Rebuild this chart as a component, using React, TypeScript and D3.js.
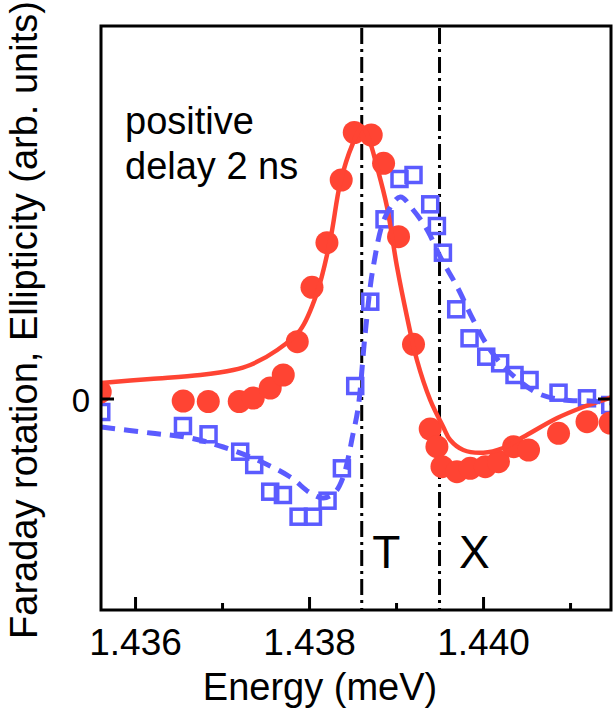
import React from "react";
import * as d3 from "d3";

// Measured data (energy in meV-axis units, signal in arb. units)
const redEnergy = [1.435594, 1.436548, 1.436836, 1.437192, 1.437353, 1.437548, 1.437698, 1.437859, 1.438028, 1.4382, 1.438364, 1.438514, 1.438709, 1.438851, 1.439023, 1.439195, 1.439387, 1.439464, 1.439522, 1.439694, 1.439847, 1.44002, 1.440172, 1.440345, 1.440517, 1.440862, 1.441189, 1.441456];
const redValue = [0.07, -0.02, -0.025, -0.025, 0.01, 0.11, 0.24, 0.573, 1.117, 1.563, 2.19, 2.665, 2.64, 2.357, 1.623, 0.547, -0.3, -0.477, -0.677, -0.727, -0.693, -0.677, -0.627, -0.477, -0.51, -0.343, -0.227, -0.24];

const blueEnergy = [1.435606, 1.436545, 1.436839, 1.437203, 1.437364, 1.437548, 1.437694, 1.437874, 1.438039, 1.438207, 1.438372, 1.438525, 1.438698, 1.438862, 1.439034, 1.439195, 1.439387, 1.439464, 1.439533, 1.439686, 1.439839, 1.440031, 1.440191, 1.440356, 1.440529, 1.440862, 1.441189, 1.441456];
const blueValue = [-0.13, -0.27, -0.353, -0.527, -0.66, -0.927, -0.96, -1.177, -1.177, -1.017, -0.693, 0.13, 0.973, 1.797, 2.2, 2.24, 1.947, 1.73, 1.463, 0.897, 0.607, 0.423, 0.357, 0.24, 0.19, 0.063, 0.007, -0.06];

const redFitEnergy = [1.435606, 1.436169, 1.436744, 1.437123, 1.437318, 1.437629, 1.437893, 1.438085, 1.438238, 1.438353, 1.438491, 1.438606, 1.438686, 1.438775, 1.43889, 1.439005, 1.43912, 1.439234, 1.439387, 1.439537, 1.439617, 1.439767, 1.439997, 1.440226, 1.440456, 1.440847, 1.441146, 1.441376, 1.441479];
const redFitValue = [0.16, 0.2, 0.24, 0.29, 0.34, 0.49, 0.69, 1.06, 1.59, 2.16, 2.54, 2.72, 2.59, 2.323, 1.923, 1.323, 0.823, 0.39, -0.01, -0.28, -0.41, -0.51, -0.537, -0.49, -0.38, -0.19, -0.08, -0.01, 0.02];

const blueFitEnergy = [1.435606, 1.436169, 1.436629, 1.437008, 1.437399, 1.437778, 1.438008, 1.438157, 1.438295, 1.438387, 1.438502, 1.43856, 1.43864, 1.438732, 1.43887, 1.439043, 1.439192, 1.439353, 1.439503, 1.439698, 1.439882, 1.440077, 1.440307, 1.440617, 1.440916, 1.441226, 1.441479];
const blueFitValue = [-0.28, -0.34, -0.39, -0.48, -0.61, -0.78, -0.94, -0.99, -0.93, -0.78, -0.34, -0.08, 0.66, 1.32, 1.82, 2.02, 1.89, 1.69, 1.42, 1.12, 0.79, 0.49, 0.26, 0.06, -0.01, -0.02, -0.04];

const majorTicks = [1.436, 1.438, 1.44];
const minorTicks = [1.437, 1.439, 1.441];
const markerLines = [1.4386, 1.439494];
const markerLabels = ["T", "X"];
const markerLabelEnergy = [1.438882, 1.439894];

const W = 613;
const H = 717;
const left = 101;
const right = 611;
const top = 26;
const bottom = 610;
const FONT = "'Liberation Sans', Arial, Helvetica, sans-serif";
const RED = "#FF4433";
const BLUE = "#5B5BFF";

export default function App() {
  const x = d3.scaleLinear().domain([1.435603, 1.441465]).range([left, right]);
  const y = d3.scaleLinear().domain([-2.11, 3.73]).range([bottom, top]);

  const redLine = d3
    .line<number>()
    .x((_, i) => x(redFitEnergy[i]))
    .y((d) => y(d))
    .curve(d3.curveCatmullRom.alpha(0.5));
  const blueLine = d3
    .line<number>()
    .x((_, i) => x(blueFitEnergy[i]))
    .y((d) => y(d))
    .curve(d3.curveCatmullRom.alpha(0.5));

  const sq = 15;

  return (
    <svg width={W} height={H} style={{ display: "block", position: "absolute", left: 0, top: 0 }} fontFamily={FONT}>
      <defs>
        <clipPath id="plot">
          <rect x={left} y={top} width={right - left} height={bottom - top} />
        </clipPath>
      </defs>
      <rect width={W} height={H} fill="white" />

      {markerLines.map((e, i) => (
        <line key={"v" + i} x1={x(e)} x2={x(e)} y1={top + 2} y2={bottom} stroke="black" strokeWidth={3} strokeDasharray="16,5,3,5" />
      ))}

      <g clipPath="url(#plot)">
        {blueValue.map((v, i) => (
          <rect key={"b" + i} x={x(blueEnergy[i]) - sq / 2} y={y(v) - sq / 2} width={sq} height={sq} fill="none" stroke={BLUE} strokeWidth={3.5} />
        ))}
        {redValue.map((v, i) => (
          <circle key={"r" + i} cx={x(redEnergy[i])} cy={y(v)} r={11.5} fill={RED} />
        ))}
        <path d={redLine(redFitValue) || ""} fill="none" stroke={RED} strokeWidth={4.5} />
        <path d={blueLine(blueFitValue) || ""} fill="none" stroke={BLUE} strokeWidth={5} strokeDasharray="14,9" />
      </g>

      <rect x={left} y={top} width={right - left} height={bottom - top} fill="none" stroke="black" strokeWidth={3} />

      {majorTicks.map((t) => (
        <line key={"M" + t} x1={x(t)} x2={x(t)} y1={bottom} y2={bottom - 13} stroke="black" strokeWidth={3} />
      ))}
      {minorTicks.map((t) => (
        <line key={"m" + t} x1={x(t)} x2={x(t)} y1={bottom} y2={bottom - 7} stroke="black" strokeWidth={3} />
      ))}
      <line x1={left} x2={left + 13} y1={y(0)} y2={y(0)} stroke="black" strokeWidth={3} />
      <line x1={right - 13} x2={right} y1={y(0)} y2={y(0)} stroke="black" strokeWidth={3} />

      {majorTicks.map((t) => (
        <text key={"L" + t} x={x(t)} y={655} fontSize={37} textAnchor="middle">
          {d3.format(".3f")(t)}
        </text>
      ))}
      <text x={90} y={412} fontSize={33} textAnchor="end">0</text>

      <text x={320} y={700} fontSize={38} textAnchor="middle">Energy (meV)</text>
      <text transform={`translate(37,320) rotate(-90)`} fontSize={38} textAnchor="middle">
        Faraday rotation, Ellipticity (arb. units)
      </text>

      <text x={125} y={134} fontSize={38}>positive</text>
      <text x={125} y={179} fontSize={38}>delay 2 ns</text>

      {markerLabels.map((l, i) => (
        <text key={l} x={x(markerLabelEnergy[i])} y={568} fontSize={46} textAnchor="middle">
          {l}
        </text>
      ))}
    </svg>
  );
}
